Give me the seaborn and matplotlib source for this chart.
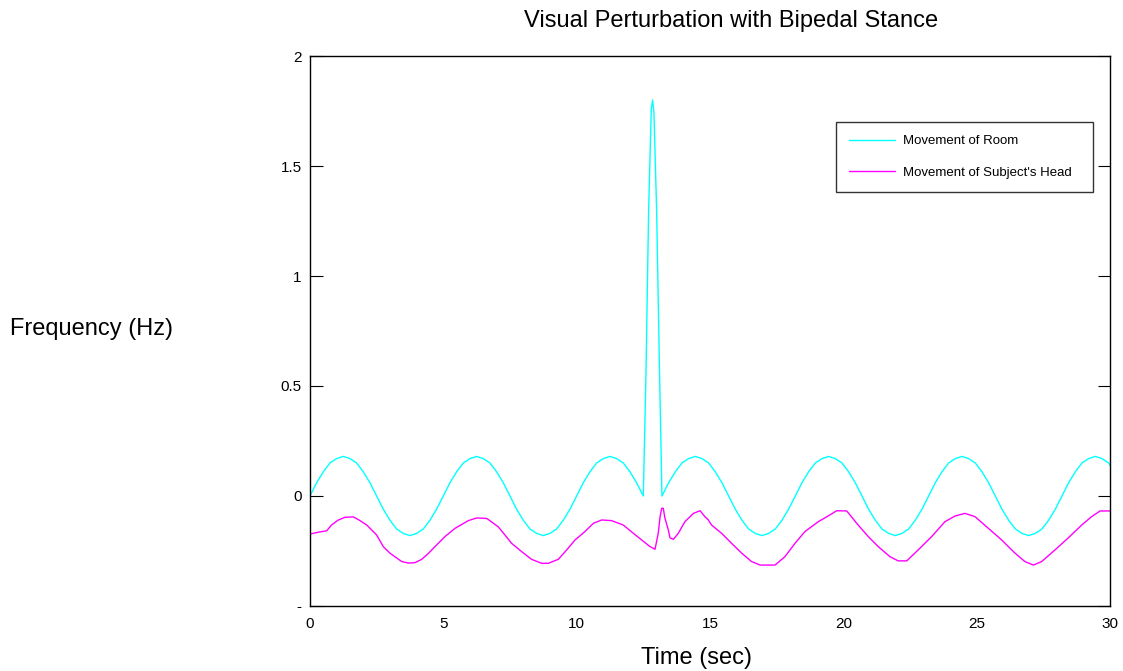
import numpy as np
import pandas as pd
import matplotlib
matplotlib.use("Agg")
import matplotlib.pyplot as plt
import seaborn as sns

# ---------------- data ----------------
# Movement of Room (cyan) : before the perturbation, 0.25 s grid from 0 to 12.5 s
room_pre_vals = [0, .06, .11, .15, .17, .18, .17, .15, .11, .06, 0, -.06, -.11, -.15, -.17, -.18, -.17, -.15, -.11, -.06,
                 0, .06, .11, .15, .17, .18, .17, .15, .11, .06, 0, -.06, -.11, -.15, -.17, -.18, -.17, -.15, -.11, -.06,
                 0, .06, .11, .15, .17, .18, .17, .15, .11, .06, 0]
# spike
room_spike_t = [12.6, 12.7, 12.8, 12.85, 12.9, 13.0, 13.1, 13.2]
room_spike_vals = [0.55, 1.3, 1.76, 1.8, 1.74, 1.3, 0.62, 0.0]
# after the perturbation, 0.25 s grid starting 13.45 s, then the final sample at 30 s
room_post_vals = [.06, .11, .15, .17, .18, .17, .15, .11, .06, 0, -.06, -.11, -.15, -.17, -.18, -.17, -.15, -.11, -.06,
                  0, .06, .11, .15, .17, .18, .17, .15, .11, .06, 0, -.06, -.11, -.15, -.17, -.18, -.17, -.15, -.11, -.06,
                  0, .06, .11, .15, .17, .18, .17, .15, .11, .06, 0, -.06, -.11, -.15, -.17, -.18, -.17, -.15, -.11, -.06,
                  0, .06, .11, .15, .17, .18, .17, .15]
room_end_t = [30.0]
room_end_vals = [0.14]

room_t = (list(np.round(np.arange(len(room_pre_vals)) * 0.25, 3)) + room_spike_t
          + list(np.round(13.2 + 0.25 * np.arange(1, len(room_post_vals) + 1), 3)) + room_end_t)
room_v = room_pre_vals + room_spike_vals + room_post_vals + room_end_vals

# Movement of Subject's Head (magenta)
head_t = [0.0, 0.3, 0.63, 0.81, 1.05, 1.31, 1.63, 1.85, 2.13, 2.5, 2.75, 3.0, 3.44, 3.7, 3.94, 4.19, 4.45,
          4.69, 5.06, 5.44, 5.94, 6.25, 6.63, 7.06, 7.31, 7.56, 7.94, 8.31, 8.69, 8.94, 9.31, 9.63, 9.94,
          10.31, 10.63, 10.94, 11.31, 11.75, 12.13, 12.44, 12.75, 12.94, 13.06, 13.13, 13.19, 13.25, 13.31,
          13.44, 13.5, 13.63, 13.81, 14.06, 14.38, 14.63, 14.81, 14.94, 15.06, 15.44, 15.81, 16.19, 16.56,
          16.88, 17.44, 17.81, 18.19, 18.56, 19.06, 19.5, 19.75, 20.13, 20.5, 20.94, 21.31, 21.75, 22.06,
          22.38, 22.81, 23.31, 23.81, 24.19, 24.56, 24.94, 25.44, 25.94, 26.44, 26.81, 27.13, 27.44, 27.94,
          28.44, 28.94, 29.31, 29.63, 30.0]
head_v = [-0.173, -0.165, -0.158, -0.132, -0.11, -0.097, -0.095, -0.11, -0.132, -0.177, -0.23, -0.26, -0.298,
          -0.305, -0.303, -0.288, -0.26, -0.23, -0.185, -0.147, -0.112, -0.10, -0.102, -0.14, -0.177, -0.215,
          -0.253, -0.288, -0.306, -0.306, -0.288, -0.245, -0.2, -0.162, -0.124, -0.109, -0.112, -0.132, -0.17,
          -0.2, -0.23, -0.242, -0.17, -0.094, -0.056, -0.056, -0.10, -0.155, -0.19, -0.197, -0.17, -0.117,
          -0.079, -0.067, -0.094, -0.109, -0.132, -0.17, -0.215, -0.26, -0.298, -0.314, -0.314, -0.276,
          -0.215, -0.162, -0.117, -0.086, -0.067, -0.068, -0.124, -0.185, -0.23, -0.276, -0.295, -0.295,
          -0.245, -0.185, -0.117, -0.091, -0.079, -0.094, -0.147, -0.2, -0.26, -0.298, -0.314, -0.298,
          -0.245, -0.19, -0.132, -0.094, -0.068, -0.068]

x_ticks = [0, 5, 10, 15, 20, 25, 30]
y_ticks = [-0.5, 0, 0.5, 1, 1.5, 2]
y_tick_labels = ["-", "0", "0.5", "1", "1.5", "2"]

labels = ["Movement of Room", "Movement of Subject's Head"]
colors = ["#00FFFF", "#FF00FF"]

df = pd.concat([
    pd.DataFrame({"t": room_t, "v": room_v, "series": labels[0]}),
    pd.DataFrame({"t": head_t, "v": head_v, "series": labels[1]}),
], ignore_index=True)

# ---------------- plot ----------------
sns.set_style("ticks")
plt.rcParams["font.family"] = ["Liberation Sans", "DejaVu Sans"]
plt.rcParams["text.color"] = "black"
plt.rcParams["xtick.color"] = "black"
plt.rcParams["ytick.color"] = "black"
plt.rcParams["xtick.labelcolor"] = "black"
plt.rcParams["ytick.labelcolor"] = "black"

fig = plt.figure(figsize=(11.23, 6.71), dpi=100)
ax = fig.add_axes([0.276, 0.0969, 0.7124, 0.8196])

sns.lineplot(data=df, x="t", y="v", hue="series", palette=dict(zip(labels, colors)),
             estimator=None, sort=False, linewidth=1.0, ax=ax)

ax.set_xlim(0, 30)
ax.set_ylim(-0.5, 2)
ax.set_xticks(x_ticks)
ax.set_xticklabels([str(v) for v in x_ticks])
ax.set_yticks(y_ticks)
ax.set_yticklabels(y_tick_labels)
ax.tick_params(axis="y", direction="in", length=9, width=0.8, labelsize=11, left=True, right=True, pad=6)
ax.tick_params(axis="x", direction="in", length=0, labelsize=11, pad=8)
for s in ax.spines.values():
    s.set_visible(True)
    s.set_color("black")
    s.set_linewidth(1.0)
ax.set_xlabel("")
ax.set_ylabel("")

leg = ax.legend(loc="upper left",
                bbox_to_anchor=(0.6575, 0.7545, 0.32125, 0.1255), mode="expand", borderaxespad=0,
                fontsize=9.5, frameon=True, fancybox=False, edgecolor="black",
                handlelength=3.5, handletextpad=0.55, labelspacing=1.45, borderpad=1.0)
leg.get_frame().set_linewidth(1.0)
for line in leg.get_lines():
    line.set_linewidth(1.0)

fig.text(0.651, 0.969, "Visual Perturbation with Bipedal Stance", ha="center", va="center", fontsize=17)
fig.text(0.009, 0.510, "Frequency (Hz)", ha="left", va="center", fontsize=17)
fig.text(0.620, 0.020, "Time (sec)", ha="center", va="center", fontsize=17)

fig.savefig("out.png", dpi=100)
